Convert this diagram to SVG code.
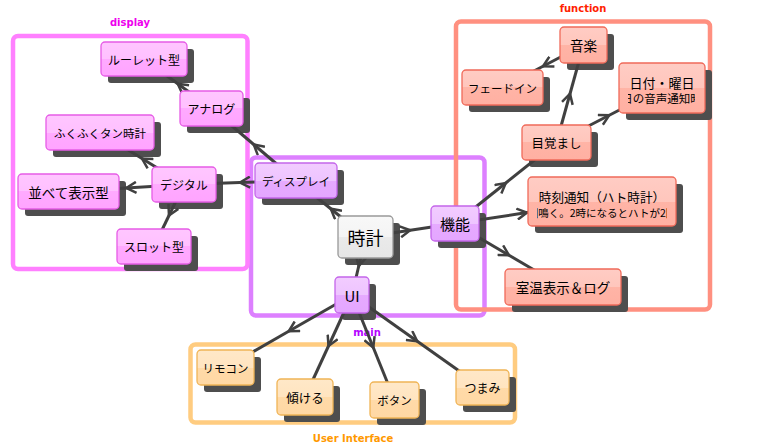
<svg xmlns="http://www.w3.org/2000/svg" width="758" height="448" viewBox="0 0 758 448">
<style>
.frame{fill:none;stroke-width:4.5}
.flabel{font-family:"DejaVu Sans",sans-serif;font-weight:bold;font-size:10px;text-anchor:middle}
.sh{fill:#4e4e4e}
.box{stroke-width:1.3}
.t{font-family:"Noto Sans CJK JP","Noto Sans",sans-serif;text-anchor:middle;dominant-baseline:central;fill:#000}
.edge{fill:none;stroke:#404040;stroke-width:3;marker-mid:url(#arr)}
.pk{fill:url(#gPink);stroke:#e65ce6}
.pu{fill:url(#gPurple);stroke:#c466ea}
.gr{fill:url(#gGray);stroke:#999999}
.sa{fill:url(#gSalmon);stroke:#f06a5a}
.or{fill:url(#gOrange);stroke:#f0b456}
</style>
<defs>
<linearGradient id="gPink" x1="0" y1="0" x2="0" y2="1"><stop offset="0" stop-color="#ffc6ff"/><stop offset="0.5" stop-color="#ffc0ff"/><stop offset="0.5" stop-color="#ffaaff"/><stop offset="1" stop-color="#ffa4ff"/></linearGradient>
<linearGradient id="gPurple" x1="0" y1="0" x2="0" y2="1"><stop offset="0" stop-color="#f2ccff"/><stop offset="0.5" stop-color="#eec4ff"/><stop offset="0.5" stop-color="#e6aaff"/><stop offset="1" stop-color="#e4a6ff"/></linearGradient>
<linearGradient id="gGray" x1="0" y1="0" x2="0" y2="1"><stop offset="0" stop-color="#f8f8f8"/><stop offset="0.5" stop-color="#f4f4f4"/><stop offset="0.5" stop-color="#eaeaea"/><stop offset="1" stop-color="#e6e6e6"/></linearGradient>
<linearGradient id="gSalmon" x1="0" y1="0" x2="0" y2="1"><stop offset="0" stop-color="#ffccc4"/><stop offset="0.5" stop-color="#ffc6bc"/><stop offset="0.5" stop-color="#ffb4a6"/><stop offset="1" stop-color="#ffb0a2"/></linearGradient>
<linearGradient id="gOrange" x1="0" y1="0" x2="0" y2="1"><stop offset="0" stop-color="#ffe8c8"/><stop offset="0.5" stop-color="#ffe4c0"/><stop offset="0.5" stop-color="#ffdaa8"/><stop offset="1" stop-color="#ffd8a4"/></linearGradient>
<marker id="arr" markerUnits="userSpaceOnUse" markerWidth="13" markerHeight="13" viewBox="0 0 13 13" refX="11" refY="6.5" orient="auto"><path d="M1,1 L11,6.5 L1,12" fill="none" stroke="#404040" stroke-width="2.5"/></marker>
<clipPath id="clipDate"><rect x="628" y="90" width="67" height="20"/></clipPath>
<clipPath id="clipHato"><rect x="537" y="203" width="130" height="20"/></clipPath>
</defs>

<g id="frames">
<rect class="frame" x="251" y="157.5" width="233.5" height="158" rx="5" stroke="#dd80ff"/>
<rect class="frame" x="13" y="36" width="234.5" height="233" rx="5" stroke="#ff80ff"/>
<rect class="frame" x="456" y="21.5" width="254" height="288" rx="5" stroke="#ff9080"/>
<rect class="frame" x="190.5" y="344.5" width="324.5" height="78" rx="5" stroke="#ffcc80"/>
<text class="flabel" x="130" y="26" fill="#ee00ee">display</text>
<text class="flabel" x="583" y="12" fill="#ff2200">function</text>
<text class="flabel" x="367" y="336" fill="#b400ff">main</text>
<text class="flabel" x="353" y="442" fill="#ff9900">User Interface</text>
</g>

<g id="shadows">
<rect class="sh" x="108" y="49" width="86" height="34" rx="3"/>
<rect class="sh" x="187" y="98" width="63" height="35" rx="3"/>
<rect class="sh" x="53" y="122" width="108" height="35" rx="3"/>
<rect class="sh" x="159" y="174" width="64" height="35" rx="3"/>
<rect class="sh" x="25" y="181" width="101" height="35" rx="3"/>
<rect class="sh" x="124" y="236" width="74" height="35" rx="3"/>
<rect class="sh" x="262" y="170" width="82" height="35" rx="3"/>
<rect class="sh" x="345" y="223" width="55" height="42" rx="3"/>
<rect class="sh" x="342" y="284" width="34" height="36" rx="3"/>
<rect class="sh" x="438" y="213" width="48" height="35" rx="3"/>
<rect class="sh" x="567" y="34" width="47" height="36" rx="3"/>
<rect class="sh" x="469" y="77" width="81" height="35" rx="3"/>
<rect class="sh" x="626" y="70" width="86" height="50" rx="3"/>
<rect class="sh" x="529" y="132" width="69" height="35" rx="3"/>
<rect class="sh" x="535" y="184" width="148" height="49" rx="3"/>
<rect class="sh" x="512" y="276" width="116" height="36" rx="3"/>
<rect class="sh" x="204" y="357" width="57" height="35" rx="3"/>
<rect class="sh" x="284" y="386" width="56" height="36" rx="3"/>
<rect class="sh" x="377" y="389" width="49" height="36" rx="3"/>
<rect class="sh" x="463" y="377" width="53" height="35" rx="3"/>
</g>

<g id="connectors">
<path class="edge" d="M365.5,237 L330.75,208.75 L296,180.5"/>
<path class="edge" d="M296,180.5 L240,182.5 L184,184.5"/>
<path class="edge" d="M296,180.5 L253.75,144.5 L211.5,108.5"/>
<path class="edge" d="M211.5,108.5 L177.75,83.75 L144,59"/>
<path class="edge" d="M184,184.5 L142,158.5 L100,132.5"/>
<path class="edge" d="M184,184.5 L126.25,188 L68.5,191.5"/>
<path class="edge" d="M184,184.5 L169,215.5 L154,246.5"/>
<path class="edge" d="M365.5,237 L410.25,230.25 L455,223.5"/>
<path class="edge" d="M365.5,237 L358.75,266 L352,295"/>
<path class="edge" d="M455,223.5 L505.75,183 L556.5,142.5"/>
<path class="edge" d="M455,223.5 L527,212.6 L602,201.5"/>
<path class="edge" d="M455,223.5 L509,255.25 L563,287"/>
<path class="edge" d="M556.5,142.5 L570,93.75 L583.5,45"/>
<path class="edge" d="M583.5,45 L543,66.25 L502.5,87.5"/>
<path class="edge" d="M556.5,142.5 L609.25,115.25 L662,88"/>
<path class="edge" d="M352,295 L288.75,331.25 L225.5,367.5"/>
<path class="edge" d="M352,295 L328.5,346 L305,397"/>
<path class="edge" d="M352,295 L373.25,347.5 L394.5,400"/>
<path class="edge" d="M352,295 L417.25,341.25 L482.5,387.5"/>
</g>

<g id="n-roulette"><rect class="box pk" x="101" y="42" width="86" height="34" rx="4"/><text class="t" x="144" y="59" font-size="12">ルーレット型</text></g>
<g id="n-analog"><rect class="box pk" x="180" y="91" width="63" height="35" rx="4"/><text class="t" x="211.5" y="108.5" font-size="12">アナログ</text></g>
<g id="n-fukufuku"><rect class="box pk" x="46" y="115" width="108" height="35" rx="4"/><text class="t" x="100" y="132.5" font-size="11.5">ふくふくタン時計</text></g>
<g id="n-digital"><rect class="box pk" x="152" y="167" width="64" height="35" rx="4"/><text class="t" x="184" y="184.5" font-size="12">デジタル</text></g>
<g id="n-narabete"><rect class="box pk" x="18" y="174" width="101" height="35" rx="4"/><text class="t" x="68.5" y="191.5" font-size="13.5">並べて表示型</text></g>
<g id="n-slot"><rect class="box pk" x="117" y="229" width="74" height="35" rx="4"/><text class="t" x="154" y="246.5" font-size="12">スロット型</text></g>

<g id="n-display"><rect class="box pu" x="255" y="163" width="82" height="35" rx="4"/><text class="t" x="296" y="180.5" font-size="11.5">ディスプレイ</text></g>
<g id="n-clock"><rect class="box gr" x="338" y="216" width="55" height="42" rx="4"/><text class="t" x="365.5" y="237" font-size="18">時計</text></g>
<g id="n-ui"><rect class="box pu" x="335" y="277" width="34" height="36" rx="4"/><text class="t" x="352" y="295" font-size="15">UI</text></g>
<g id="n-kinou"><rect class="box pu" x="431" y="206" width="48" height="35" rx="4"/><text class="t" x="455" y="223.5" font-size="15">機能</text></g>

<g id="n-music"><rect class="box sa" x="560" y="27" width="47" height="36" rx="4"/><text class="t" x="583.5" y="45" font-size="13.5">音楽</text></g>
<g id="n-fadein"><rect class="box sa" x="462" y="70" width="81" height="35" rx="4"/><text class="t" x="502.5" y="87.5" font-size="11.5">フェードイン</text></g>
<g id="n-date"><rect class="box sa" x="619" y="63" width="86" height="50" rx="4"/><text class="t" x="662" y="82" font-size="13">日付・曜日</text><text class="t" x="661.5" y="98" font-size="11.5" clip-path="url(#clipDate)">日の音声通知時</text></g>
<g id="n-mezamashi"><rect class="box sa" x="522" y="125" width="69" height="35" rx="4"/><text class="t" x="556.5" y="142.5" font-size="12.5">目覚まし</text></g>
<g id="n-hato"><rect class="box sa" x="528" y="177" width="148" height="49" rx="4"/><text class="t" x="602" y="196.5" font-size="12.6">時刻通知（ハト時計）</text><text class="t" x="602" y="212.5" font-size="10.5" clip-path="url(#clipHato)">回鳴く。2時になるとハトが2回</text></g>
<g id="n-temp"><rect class="box sa" x="505" y="269" width="116" height="36" rx="4"/><text class="t" x="563" y="287" font-size="13.5">室温表示＆ログ</text></g>

<g id="n-remocon"><rect class="box or" x="197" y="350" width="57" height="35" rx="4"/><text class="t" x="225.5" y="367.5" font-size="11.5">リモコン</text></g>
<g id="n-katamukeru"><rect class="box or" x="277" y="379" width="56" height="36" rx="4"/><text class="t" x="305" y="397" font-size="12.5">傾ける</text></g>
<g id="n-button"><rect class="box or" x="370" y="382" width="49" height="36" rx="4"/><text class="t" x="394.5" y="400" font-size="11.5">ボタン</text></g>
<g id="n-tsumami"><rect class="box or" x="456" y="370" width="53" height="35" rx="4"/><text class="t" x="482.5" y="387.5" font-size="12">つまみ</text></g>
</svg>
